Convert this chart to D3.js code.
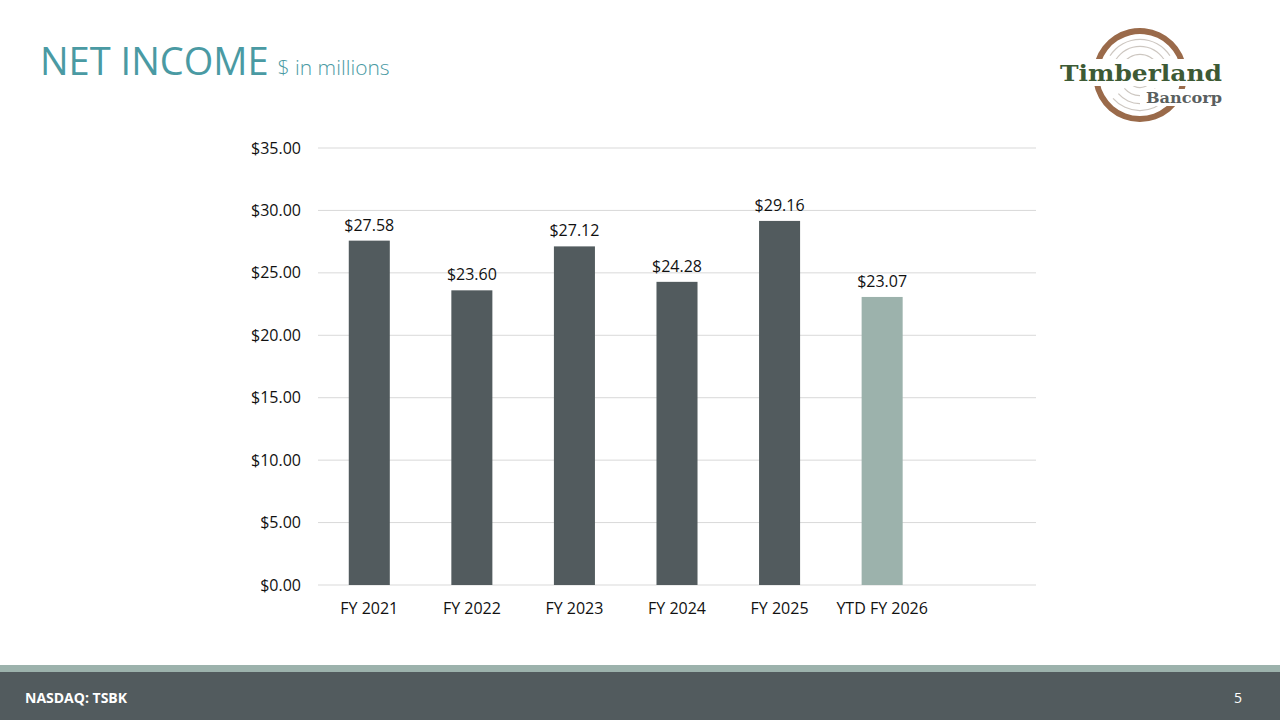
<!DOCTYPE html>
<html>
<head>
<meta charset="utf-8">
<script src="https://cdn.jsdelivr.net/npm/d3@7"></script>
<style>
  body { margin: 0; background: #fff; }
  svg { display: block; }
</style>
</head>
<body>
<div id="chart"></div>
<script>
// values
const categories = ["FY 2021", "FY 2022", "FY 2023", "FY 2024", "FY 2025", "YTD FY 2026", ""];
const netIncome = [27.58, 23.60, 27.12, 24.28, 29.16, 23.07];
const yTicks = [0, 5, 10, 15, 20, 25, 30, 35];

const svgWidth = 1280, svgHeight = 720;
const margin = { top: 148, right: 244, bottom: 135, left: 318 };
const width = svgWidth - margin.left - margin.right;
const height = svgHeight - margin.top - margin.bottom;
const font = "'Open Sans', 'Noto Sans', sans-serif";

const svg = d3.select("#chart").append("svg")
    .attr("width", svgWidth)
    .attr("height", svgHeight)
    .style("font-family", font);

// title
const title = svg.append("text")
    .attr("x", 40).attr("y", 75)
    .attr("fill", "#4a9aa3");
title.append("tspan").attr("font-size", 38).text("NET INCOME");
title.append("tspan").attr("font-size", 21).attr("font-weight", 300).attr("dx", 9).text("$ in millions");

const g = svg.append("g")
    .attr("transform", "translate(" + margin.left + ", " + margin.top + ")");

const x = d3.scaleBand().domain(categories).range([0, width])
    .paddingInner(0.6).paddingOuter(0.3);
const y = d3.scaleLinear().domain([0, 35]).range([height, 0]);

// gridlines
g.append("g")
    .selectAll("line")
    .data(yTicks)
    .join("line")
    .attr("x1", 0).attr("x2", width)
    .attr("y1", d => y(d)).attr("y2", d => y(d))
    .attr("stroke", "#d9d9d9").attr("stroke-width", 1);

// y axis labels
const yAxis = g.append("g")
    .call(d3.axisLeft(y).tickValues(yTicks).tickSize(0).tickPadding(17)
        .tickFormat(d => "$" + d3.format(".2f")(d)));
yAxis.select(".domain").remove();
yAxis.selectAll("text").attr("font-family", font).attr("font-size", 16).attr("fill", "#111");

// x axis labels
const xAxis = g.append("g")
    .attr("transform", "translate(0, " + height + ")")
    .call(d3.axisBottom(x).tickSize(0).tickPadding(18));
xAxis.select(".domain").remove();
xAxis.selectAll("text").attr("font-family", font).attr("font-size", 16).attr("fill", "#111");

const data = netIncome.map((v, i) => ({ cat: categories[i], value: v }));

g.selectAll(".bar")
    .data(data)
    .join("rect")
    .attr("class", "bar")
    .attr("x", d => x(d.cat))
    .attr("width", x.bandwidth())
    .attr("y", d => y(d.value))
    .attr("height", d => height - y(d.value))
    .attr("fill", d => d.cat.startsWith("YTD") ? "#9cb2ac" : "#525b5e");

g.selectAll(".label")
    .data(data)
    .join("text")
    .attr("class", "label")
    .attr("x", d => x(d.cat) + x.bandwidth() / 2)
    .attr("y", d => y(d.value) - 10)
    .attr("text-anchor", "middle")
    .attr("font-size", 16)
    .attr("fill", "#111")
    .text(d => "$" + d3.format(".2f")(d.value));

// footer
svg.append("rect").attr("x", 0).attr("y", 665).attr("width", svgWidth).attr("height", 7).attr("fill", "#9cb2ac");
svg.append("rect").attr("x", 0).attr("y", 672).attr("width", svgWidth).attr("height", 48).attr("fill", "#525b5e");
svg.append("text").attr("x", 25).attr("y", 703)
    .attr("fill", "#fff").attr("font-size", 14).attr("font-weight", "bold")
    .text("NASDAQ: TSBK");
svg.append("text").attr("x", 1238).attr("y", 703)
    .attr("fill", "#fff").attr("font-size", 14).attr("text-anchor", "middle")
    .text("5");

// logo, rough sketch
const logo = svg.append("g").attr("transform", "translate(1140, 75)");
const ringArc = d3.arc().innerRadius(41).outerRadius(47);
logo.append("path")
    .attr("d", ringArc({ startAngle: -1.25, endAngle: 1.45 }))
    .attr("fill", "#9a6a4a");
logo.append("path")
    .attr("d", ringArc({ startAngle: 1.75, endAngle: 4.55 }))
    .attr("fill", "#9a6a4a");
[12, 20, 28, 35].forEach(r => {
    logo.append("path")
        .attr("d", d3.arc().innerRadius(r).outerRadius(r + 1.2)({ startAngle: -1.0, endAngle: 1.0 }))
        .attr("fill", "#cdc7c1");
    logo.append("path")
        .attr("d", d3.arc().innerRadius(r).outerRadius(r + 1.2)({ startAngle: 2.3, endAngle: 4.0 }))
        .attr("fill", "#cdc7c1");
});
logo.append("rect").attr("x", -84).attr("y", -16).attr("width", 170).attr("height", 27).attr("fill", "#fff");
logo.append("rect").attr("x", 0).attr("y", 14).attr("width", 82).attr("height", 17).attr("fill", "#fff");
logo.append("text").attr("x", 1).attr("y", 6)
    .attr("text-anchor", "middle")
    .attr("font-family", "'DejaVu Serif', 'Liberation Serif', serif")
    .attr("font-weight", "bold").attr("font-size", 22).attr("fill", "#3d5a35")
    .attr("textLength", 162).attr("lengthAdjust", "spacingAndGlyphs")
    .text("Timberland");
logo.append("text").attr("x", 82).attr("y", 28)
    .attr("text-anchor", "end")
    .attr("font-family", "'DejaVu Serif', 'Liberation Serif', serif")
    .attr("font-weight", "bold").attr("font-size", 14).attr("fill", "#5a5f60")
    .attr("textLength", 76).attr("lengthAdjust", "spacingAndGlyphs")
    .text("Bancorp");
</script>
</body>
</html>
